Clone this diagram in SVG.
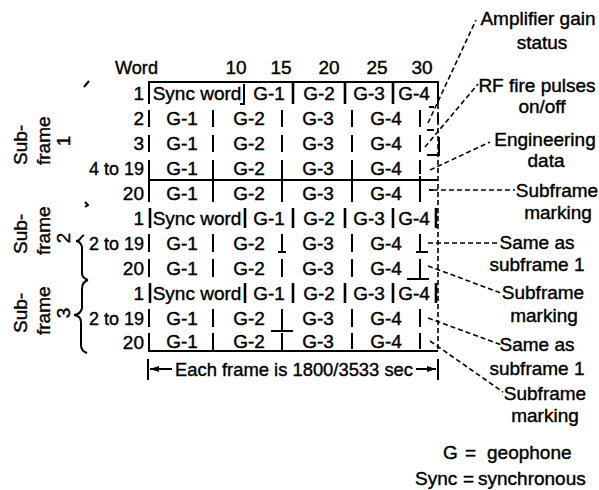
<svg xmlns="http://www.w3.org/2000/svg" width="599" height="490" viewBox="0 0 599 490">
<defs>
<style>
.t{font-family:"Liberation Sans",Arial,sans-serif;font-size:19px;fill:#000;stroke:#000;stroke-width:0.4}
.m{text-anchor:middle}
.e{text-anchor:end}
.ln{stroke:#000;stroke-width:2;fill:none}
.bd{stroke:#000;stroke-width:2.6;fill:none}
.ld{stroke:#000;stroke-width:1.6;stroke-dasharray:5 3;fill:none}
</style>
<marker id="ah" markerWidth="10" markerHeight="8" refX="9" refY="4" orient="auto" markerUnits="userSpaceOnUse">
<path d="M0,1 L9,4 L0,7 Z" fill="#000"/>
</marker>
</defs>
<rect width="599" height="490" fill="#fff"/>

<g id="header">
<text class="t" x="115" y="74" textLength="43" lengthAdjust="spacingAndGlyphs">Word</text>
<text class="t m" x="236" y="74">10</text>
<text class="t m" x="281" y="74">15</text>
<text class="t m" x="329" y="74">20</text>
<text class="t m" x="377" y="74">25</text>
<text class="t m" x="422" y="74">30</text>
</g>

<g id="subframe-labels">
<text class="t" transform="translate(27,165) rotate(-90)">Sub-</text>
<text class="t" transform="translate(50,165) rotate(-90)">frame</text>
<text class="t m" transform="translate(70,141) rotate(-90)">1</text>
<text class="t" transform="translate(27,254) rotate(-90)">Sub-</text>
<text class="t" transform="translate(50,255) rotate(-90)">frame</text>
<text class="t m" transform="translate(70,238) rotate(-90)">2</text>
<text class="t" transform="translate(27,333) rotate(-90)">Sub-</text>
<text class="t" transform="translate(50,335) rotate(-90)">frame</text>
<text class="t m" transform="translate(70,313) rotate(-90)">3</text>
<path class="ln" d="M84,235 Q81,237 80,239 Q79,241 76,241 Q81,242 82,247 L82,273 Q82,278 88,280"/>
<path class="ln" d="M88,280 Q82,282 82,289 L82,308 Q81,314 74,315 Q81,316 81,322 L81,345 Q81,351 87,353"/>
<path class="ln" d="M84,87 L89,81" stroke-width="1.6"/>
<path class="ln" d="M85,202 L88,205 L85,207" stroke-width="1.4"/>
</g>

<g id="grid-frame">
<path class="ln" d="M149,104 V82 H438 V104"/>
<path class="ln" d="M149,180 H438"/>
<path class="ln" d="M149,333 V351 H438"/>
<path class="ld" d="M438,104 V351"/>
</g>

<g id="sf1-row1">
<text class="t e" x="144" y="100">1</text>
<text class="t m" x="197" y="100">Sync word</text>
<path class="ln" d="M240,104 H244 V84"/>
<text class="t m" x="269" y="100">G-1</text>
<path class="bd" d="M293,82 V104 M345,82 V104 M393,82 V104"/>
<text class="t m" x="319" y="100">G-2</text>
<text class="t m" x="369" y="100">G-3</text>
<text class="t m" x="414" y="100">G-4</text>
</g>

<g id="sf1-row2">
<text class="t e" x="144" y="125">2</text>
<path class="ln" d="M149,110 V127 M213,110 V127 M282,110 V127 M352,110 V127 M420,110 V127"/>
<text class="t m" x="182" y="125">G-1</text>
<text class="t m" x="249" y="125">G-2</text>
<text class="t m" x="318" y="125">G-3</text>
<text class="t m" x="386" y="125">G-4</text>
<path class="ln" d="M429,107 H434 M438,114 V123" stroke-width="1.8"/>
</g>

<g id="sf1-row3">
<text class="t e" x="144" y="150">3</text>
<path class="ln" d="M149,135 V152 M213,135 V152 M282,135 V152 M352,135 V152 M420,135 V152"/>
<text class="t m" x="182" y="150">G-1</text>
<text class="t m" x="249" y="150">G-2</text>
<text class="t m" x="318" y="150">G-3</text>
<text class="t m" x="386" y="150">G-4</text>
<path class="ln" d="M427,130 H434 M439,137 V155 H427" stroke-width="1.8"/>
</g>

<g id="sf1-row4to19">
<text class="t e" x="144" y="175" textLength="55" lengthAdjust="spacingAndGlyphs">4 to 19</text>
<path class="ln" d="M149,160 V180 M213,160 V180 M282,160 V180 M352,160 V180 M420,160 V174"/>
<text class="t m" x="182" y="175">G-1</text>
<text class="t m" x="249" y="175">G-2</text>
<text class="t m" x="318" y="175">G-3</text>
<text class="t m" x="386" y="175">G-4</text>
</g>

<g id="sf1-row20">
<text class="t e" x="144" y="200">20</text>
<path class="ln" d="M149,180 V202 M213,180 V202 M282,175 V202 M352,180 V202 M420,176 V202"/>
<text class="t m" x="182" y="200">G-1</text>
<text class="t m" x="249" y="200">G-2</text>
<text class="t m" x="318" y="200">G-3</text>
<text class="t m" x="386" y="200">G-4</text>
<path class="ln" d="M429,190 H433" stroke-width="1.8"/>
</g>

<g id="sf2-row1">
<text class="t e" x="144" y="225">1</text>
<path class="bd" d="M150,208 V228 M245,208 V228 M293,208 V228 M345,208 V228 M393,208 V228 M436,208 V228"/>
<text class="t m" x="197" y="225">Sync word</text>
<text class="t m" x="269" y="225">G-1</text>
<text class="t m" x="319" y="225">G-2</text>
<text class="t m" x="369" y="225">G-3</text>
<text class="t m" x="414" y="225">G-4</text>
</g>

<g id="sf2-row2to19">
<text class="t e" x="144" y="250" textLength="55" lengthAdjust="spacingAndGlyphs">2 to 19</text>
<path class="ln" d="M149,234 V252 M213,234 V252 M282,234 V252 M352,234 V252 M420,234 V252 M278,252 H286 M416,252 H428"/>
<text class="t m" x="182" y="250">G-1</text>
<text class="t m" x="249" y="250">G-2</text>
<text class="t m" x="318" y="250">G-3</text>
<text class="t m" x="386" y="250">G-4</text>
</g>

<g id="sf2-row20">
<text class="t e" x="144" y="275">20</text>
<path class="ln" d="M149,259 V277 M213,259 V277 M282,259 V277 M352,259 V277 M420,259 V279 M407,279 H429"/>
<text class="t m" x="182" y="275">G-1</text>
<text class="t m" x="249" y="275">G-2</text>
<text class="t m" x="318" y="275">G-3</text>
<text class="t m" x="386" y="275">G-4</text>
</g>

<g id="sf3-row1">
<text class="t e" x="144" y="300">1</text>
<path class="bd" d="M150,283 V303 M245,283 V303 M293,283 V303 M345,283 V303 M393,283 V303 M436,283 V303"/>
<text class="t m" x="197" y="300">Sync word</text>
<text class="t m" x="269" y="300">G-1</text>
<text class="t m" x="319" y="300">G-2</text>
<text class="t m" x="369" y="300">G-3</text>
<text class="t m" x="414" y="300">G-4</text>
</g>

<g id="sf3-row2to19">
<text class="t e" x="144" y="325" textLength="55" lengthAdjust="spacingAndGlyphs">2 to 19</text>
<path class="ln" d="M149,309 V327 M213,309 V327 M282,309 V331 M352,309 V327 M420,309 V327 M271,331 H293"/>
<text class="t m" x="182" y="325">G-1</text>
<text class="t m" x="249" y="325">G-2</text>
<text class="t m" x="318" y="325">G-3</text>
<text class="t m" x="386" y="325">G-4</text>
</g>

<g id="sf3-row20">
<text class="t e" x="144" y="349">20</text>
<path class="ln" d="M213,333 V351 M282,333 V351 M352,333 V349 M420,333 V349"/>
<text class="t m" x="182" y="348">G-1</text>
<text class="t m" x="249" y="348">G-2</text>
<text class="t m" x="318" y="348">G-3</text>
<text class="t m" x="386" y="348">G-4</text>
</g>

<g id="frame-duration">
<path class="ln" d="M148,359 V380 M438,359 V380"/>
<path class="ln" d="M172,369 H150" marker-end="url(#ah)"/>
<path class="ln" d="M416,369 H436" marker-end="url(#ah)"/>
<text class="t" x="175" y="376" textLength="238" lengthAdjust="spacingAndGlyphs">Each frame is 1800/3533 sec</text>
</g>

<g id="connectors">
<path class="ld" d="M428,123 L476,20"/>
<path class="ld" d="M425,147 L478,84"/>
<path class="ld" d="M430,170 L490,142"/>
<path class="ld" d="M433,190 L515,190"/>
<path class="ld" d="M428,243 L500,243"/>
<path class="ld" d="M428,266 L501,293"/>
<path class="ld" d="M428,318 L502,345"/>
<path class="ld" d="M430,341 L503,392"/>
</g>

<g id="label-amplifier">
<text class="t m" x="538" y="25">Amplifier gain</text>
<text class="t m" x="542" y="49">status</text>
</g>
<g id="label-rf">
<text class="t m" x="537" y="92">RF fire pulses</text>
<text class="t m" x="542" y="113">on/off</text>
</g>
<g id="label-engineering">
<text class="t m" x="545" y="146">Engineering</text>
<text class="t m" x="546" y="167">data</text>
</g>
<g id="label-subframe-marking-1">
<text class="t m" x="557" y="197">Subframe</text>
<text class="t m" x="558" y="219">marking</text>
</g>
<g id="label-same-1">
<text class="t m" x="537" y="249">Same as</text>
<text class="t m" x="537" y="271">subframe 1</text>
</g>
<g id="label-subframe-marking-2">
<text class="t m" x="543" y="299">Subframe</text>
<text class="t m" x="544" y="322">marking</text>
</g>
<g id="label-same-2">
<text class="t m" x="537" y="351">Same as</text>
<text class="t m" x="537" y="375">subframe 1</text>
</g>
<g id="label-subframe-marking-3">
<text class="t m" x="545" y="400">Subframe</text>
<text class="t m" x="545" y="422">marking</text>
</g>

<g id="legend">
<text class="t"><tspan x="443" y="459">G</tspan><tspan x="465" y="459">=</tspan><tspan x="487" y="459">geophone</tspan></text>
<text class="t"><tspan x="415" y="485">Sync</tspan><tspan x="463" y="485">=</tspan><tspan x="478" y="485">synchronous</tspan></text>
</g>
</svg>
